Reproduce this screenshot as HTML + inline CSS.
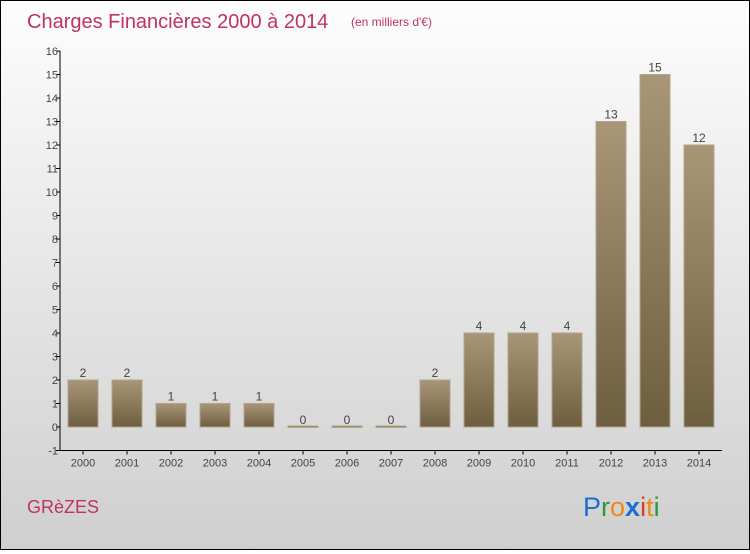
<!DOCTYPE html>
<html><head><meta charset="utf-8"><style>
html,body{margin:0;padding:0;}
body{width:750px;height:550px;overflow:hidden;font-family:"Liberation Sans",sans-serif;}
#frame{position:absolute;left:0;top:0;width:748px;height:548px;border:1px solid #000;background:linear-gradient(#fdfdfd,#cfcfcf);}
</style></head><body>
<div id="frame">
<svg id="chart" width="748" height="548">
<defs>
<linearGradient id="bg" x1="0" y1="0" x2="0" y2="1"><stop offset="0" stop-color="#a89677"/><stop offset="1" stop-color="#6e5e40"/></linearGradient>
</defs>
<text x="26" y="27" font-size="20" fill="#c0335e">Charges Financières 2000 à 2014</text>
<text x="350" y="25" font-size="12" fill="#c0335e">(en milliers d'€)</text>
<text x="26" y="512" font-size="18" fill="#c0335e">GRèZES</text>
<g font-size="27" font-family="'Liberation Sans',sans-serif">
<text x="582" y="515"><tspan fill="#1a6fd0">P</tspan><tspan fill="#2a9a3a">r</tspan><tspan fill="#f08a10">o</tspan><tspan fill="#1a6fd0" font-weight="bold">x</tspan><tspan fill="#e03a20">i</tspan><tspan fill="#f08a10">t</tspan><tspan fill="#2a9a3a">i</tspan></text>
</g>
<g id="axes"></g>
<g id="bars"></g>
</svg>
</div>
<script>
const categories=["2000","2001","2002","2003","2004","2005","2006","2007","2008","2009","2010","2011","2012","2013","2014"];
const values=[2,2,1,1,1,0,0,0,2,4,4,4,13,15,12];
const yTicks=[-1,0,1,2,3,4,5,6,7,8,9,10,11,12,13,14,15,16];
const NS="http://www.w3.org/2000/svg";
const y0=426,unit=23.5,x0=82,step=44,bw=30,axisX=59;
function y(v){return y0-v*unit;}
function x(i){return x0+i*step;}
function mk(t,a,p){const e=document.createElementNS(NS,t);for(const k in a)e.setAttribute(k,a[k]);p.appendChild(e);return e;}
const ax=document.getElementById('axes'),bars=document.getElementById('bars');
let l=mk('line',{x1:axisX,y1:y(16),x2:axisX,y2:y(-1),stroke:'#000','stroke-width':1},ax);


l=mk('line',{x1:axisX,y1:y(-1),x2:721,y2:y(-1),stroke:'#000','stroke-width':1},ax);


yTicks.forEach(v=>{
 mk('line',{x1:axisX-4,y1:y(v),x2:axisX,y2:y(v),stroke:'#000'},ax);
 const t=mk('text',{x:axisX-2,y:y(v)+4,'font-size':11,fill:'#444','text-anchor':'end'},ax);
 t.textContent=v;
 
 
});
categories.forEach((c,i)=>{
 mk('line',{x1:x(i),y1:y(-1),x2:x(i),y2:y(-1)+4,stroke:'#000'},ax);
 const t=mk('text',{x:x(i),y:y(-1)+16,'font-size':11,fill:'#444','text-anchor':'middle'},ax);
 t.textContent=c;
 
 
 const v=values[i];
 const top=y(v),h=Math.max(y0-top,1.5);
 const r=mk('rect',{x:x(i)-bw/2,y:v>0?top:y0-1,width:bw,height:h,fill:'url(#bg)',stroke:'#b0a48e','stroke-width':1},bars);
 
 
 const lb=mk('text',{x:x(i),y:(v>0?top:y0)-3,'font-size':12,fill:'#444','text-anchor':'middle'},bars);
 lb.textContent=v;
 
 
});
</script>
</body></html>
